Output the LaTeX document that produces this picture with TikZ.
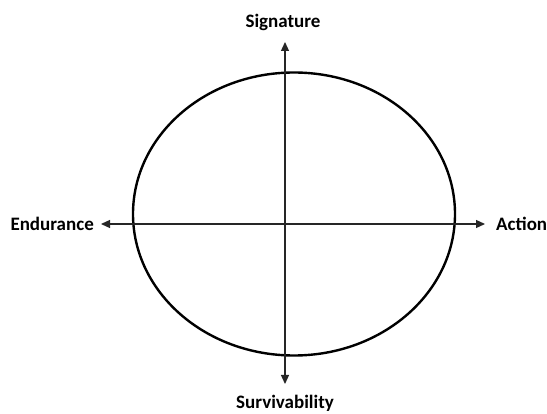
\documentclass[tikz,border=0pt]{standalone}
\usepackage{fontspec}
\setmainfont{Carlito}
\usetikzlibrary{arrows.meta}
\begin{document}
\begin{tikzpicture}[x=1pt,y=-1pt,
  lbl/.style={font=\bfseries\fontsize{19}{22}\selectfont, inner sep=0pt},
  axis/.style={line width=1.3pt, black!85, {Triangle[length=9pt,width=8pt]}-{Triangle[length=9pt,width=8pt]}},
  oval/.style={line width=2.4pt, black}]
\useasboundingbox (0,0) rectangle (547,414);
\draw[oval] (294,214) ellipse [x radius=161, y radius=141.5];
\coordinate (top) at (285,42);
\coordinate (bot) at (285,384);
\coordinate (lft) at (101,224);
\coordinate (rgt) at (485,224);
\draw[axis] (top) -- (bot);
\draw[axis] (lft) -- (rgt);
\node[lbl] (sig) at (283,22) {Signature};
\node[lbl] (sur) at (285,403) {Survivability};
\node[lbl, anchor=east] (end) at (94,224) {Endurance};
\node[lbl, anchor=west] (act) at (496,224) {Action};
\end{tikzpicture}
\end{document}
